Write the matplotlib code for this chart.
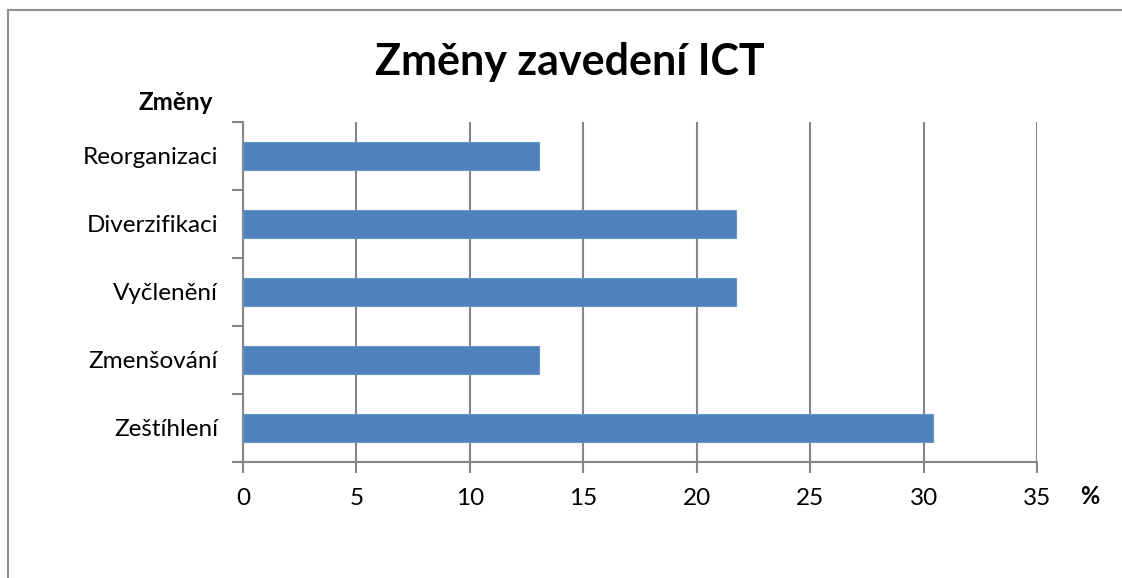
import matplotlib
matplotlib.use("Agg")
import matplotlib.pyplot as plt
from matplotlib.lines import Line2D

categories = ["Zeštíhlení", "Zmenšování", "Vyčlenění", "Diverzifikaci", "Reorganizaci"]
values = [30.43, 13.04, 21.74, 21.74, 13.04]
xticks = [0, 5, 10, 15, 20, 25, 30, 35]

plt.rcParams['font.family'] = ['Lato', 'DejaVu Sans']
gray = "#868686"

fig = plt.figure(figsize=(11.22, 5.78), dpi=100)
ax = fig.add_axes([243/1122, 1-462/578, (1037-243)/1122, (462-122)/578])

ax.barh(range(len(categories)), values, height=0.4, color="#4F81BD", edgecolor="#6A95CB", linewidth=0.8, zorder=3)
ax.set_xlim(0, 35)
ax.set_ylim(-0.5, len(categories) - 0.5)
ax.set_xticks(xticks)
ax.set_xticklabels([str(t) for t in xticks], fontsize=17.5)
ax.set_yticks(range(len(categories)))
ax.set_yticklabels(categories, fontsize=17.5)
ax.set_yticks([i - 0.5 for i in range(len(categories) + 1)], minor=True)
ax.tick_params(axis='y', which='major', length=0, pad=18)
ax.tick_params(axis='y', which='minor', length=8, width=1.5, color=gray, direction='out')
ax.tick_params(axis='x', which='major', length=8, width=1.5, color=gray, direction='out', pad=11)
ax.xaxis.grid(True, color=gray, linewidth=1.5, zorder=0)
ax.set_axisbelow(True)
for s in ['top', 'right']:
    ax.spines[s].set_visible(False)
for s in ['left', 'bottom']:
    ax.spines[s].set_color(gray)
    ax.spines[s].set_linewidth(1.5)

fig.text(570/1122, 1-62/578, "Změny zavedení ICT", fontsize=31, fontweight='bold', ha='center', va='center')
fig.text(213/1122, 1-103/578, "Změny", fontsize=17.5, fontweight='bold', ha='right', va='center')
fig.text(1090/1122, 1-497/578, "%", fontsize=17, fontweight='bold', ha='center', va='center')

# figure border (left and top visible)
fig.add_artist(Line2D([8/1122, 8/1122], [0, 1-10/578], transform=fig.transFigure, color="#909090", linewidth=1.5))
fig.add_artist(Line2D([8/1122, 1], [1-10/578, 1-10/578], transform=fig.transFigure, color="#909090", linewidth=1.5))

fig.savefig("out.png", dpi=100)
